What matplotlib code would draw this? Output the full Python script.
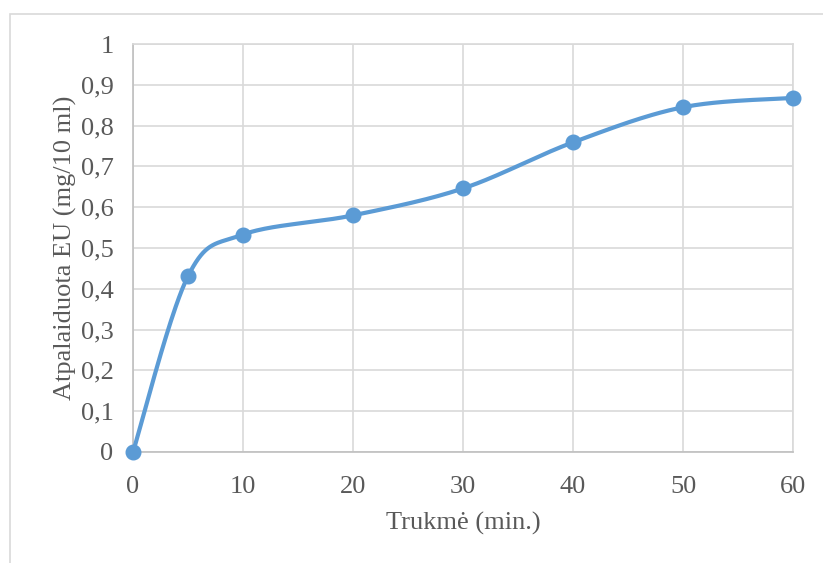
import numpy as np
import matplotlib.pyplot as plt
from matplotlib.patches import Rectangle

# Release of EU over time
minutes = [0, 5, 10, 20, 30, 40, 50, 60]
released = [0, 0.431, 0.533, 0.580, 0.646, 0.759, 0.845, 0.868]

x_ticks = [0, 10, 20, 30, 40, 50, 60]
y_ticks = [0, 0.1, 0.2, 0.3, 0.4, 0.5, 0.6, 0.7, 0.8, 0.9, 1.0]
y_labels = ["0", "0,1", "0,2", "0,3", "0,4", "0,5", "0,6", "0,7", "0,8", "0,9", "1"]

LINE_BLUE = "#5b9bd5"
GRID = "#d9d9d9"
TEXT = "#595959"

plt.rcParams["font.family"] = ["Liberation Serif", "DejaVu Serif"]


def smooth_curve(xs, ys, steps=40):
    """Catmull-Rom style Bezier smoothing through every point."""
    p = np.column_stack([xs, ys]).astype(float)
    ext = np.vstack([p[0], p, p[-1]])
    out = []
    t = np.linspace(0, 1, steps)[:, None]
    for i in range(len(p) - 1):
        p0, p3 = ext[i + 1], ext[i + 2]
        c1 = p0 + (ext[i + 2] - ext[i]) / 6
        c2 = p3 - (ext[i + 3] - ext[i + 1]) / 6
        seg = ((1 - t) ** 3) * p0 + 3 * ((1 - t) ** 2) * t * c1 \
            + 3 * (1 - t) * t ** 2 * c2 + t ** 3 * p3
        out.append(seg if i == 0 else seg[1:])
    out = np.vstack(out)
    return out[:, 0], out[:, 1]


fig = plt.figure(figsize=(8.23, 5.63), dpi=100)
ax = fig.add_axes([133 / 823, 1 - 452 / 563, 660 / 823, 408 / 563])

# chart frame (only top and left edges fall inside the image)
fig.patches.append(Rectangle((10 / 823, -0.1), 1.2, 1 - 14 / 563 + 0.1,
                             transform=fig.transFigure, fill=False,
                             edgecolor=GRID, linewidth=1.2, zorder=0))

sx, sy = smooth_curve(minutes, released)
ax.plot(sx, sy, color=LINE_BLUE, linewidth=3.0, solid_capstyle="round",
        zorder=3, clip_on=False)
ax.plot(minutes, released, linestyle="none", marker="o", markersize=10.5,
        color=LINE_BLUE, zorder=4, clip_on=False)

ax.set_xlim(0, 60)
ax.set_ylim(0, 1)
ax.set_xticks(x_ticks)
ax.set_yticks(y_ticks)
ax.set_yticklabels(y_labels)
ax.grid(True, color=GRID, linewidth=1.2)
ax.set_axisbelow(True)
for side in ["top", "right"]:
    ax.spines[side].set_color(GRID)
    ax.spines[side].set_linewidth(1.2)
for side in ["left", "bottom"]:
    ax.spines[side].set_color("#bfbfbf")
    ax.spines[side].set_linewidth(1.2)

ax.tick_params(axis="both", length=0, labelsize=19, labelcolor=TEXT)
ax.tick_params(axis="x", pad=17)
ax.tick_params(axis="y", pad=14)

ax.set_xlabel("Trukmė (min.)", fontsize=19, color=TEXT, labelpad=10)
ax.set_ylabel("Atpalaiduota EU (mg/10 ml)", fontsize=19, color=TEXT, labelpad=3)

fig.savefig("out.png", dpi=100)
